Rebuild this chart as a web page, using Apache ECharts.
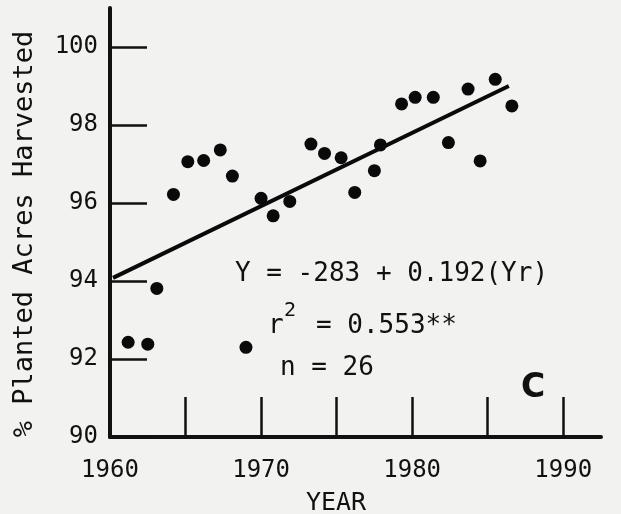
<!DOCTYPE html>
<html>
<head>
<meta charset="utf-8">
<script src="https://cdn.jsdelivr.net/npm/echarts@6/dist/echarts.min.js"></script>
<style>
  html, body { margin: 0; padding: 0; background: #f2f2f0; }
  #chart { width: 621px; height: 514px; }
</style>
</head>
<body>
<div id="chart"></div>
<script>
  // values (year as plotted, % harvested)
  const years = [1961.2, 1962.5, 1963.1, 1964.2, 1965.15, 1966.2, 1967.3, 1968.1, 1969.0, 1970.0,
    1970.8, 1971.9, 1973.3, 1974.2, 1975.3, 1976.2, 1977.5, 1977.9, 1979.3, 1980.2,
    1981.4, 1982.4, 1983.7, 1984.5, 1985.5, 1986.6];
  const harvested = [92.43, 92.38, 93.81, 96.22, 97.06, 97.09, 97.36, 96.69, 92.3, 96.12,
    95.67, 96.04, 97.51, 97.27, 97.16, 96.27, 96.83, 97.49, 98.54, 98.71,
    98.71, 97.55, 98.92, 97.08, 99.17, 98.49];
  // fitted line as drawn
  const fitYears = [1960.2, 1986.4];
  const fitValues = [94.08, 99.0];

  const yTicks = [90, 92, 94, 96, 98, 100];
  const xLabels = [1960, 1970, 1980, 1990];
  const xTicks = [1965, 1970, 1975, 1980, 1985, 1990];

  const font = 'DejaVu Sans Mono';

  const myChart = echarts.init(document.getElementById('chart'));

  const option = {
    backgroundColor: '#f2f2f0',
    animation: false,
    grid: { left: 110, top: 8, width: 491, height: 429 },
    xAxis: {
      type: 'value',
      min: 1960,
      max: 1992.5,
      splitLine: { show: false },
      axisLine: { lineStyle: { color: '#111', width: 4 } },
      axisTick: {
        inside: true,
        length: 40,
        customValues: xTicks,
        lineStyle: { color: '#111', width: 2.5 },
      },
      axisLabel: {
        customValues: xLabels,
        formatter: (v) => String(v),
        margin: 22,
        color: '#111',
        fontFamily: font,
        fontSize: 24,
      },
    },
    yAxis: {
      type: 'value',
      min: 90,
      max: 101,
      splitLine: { show: false },
      axisLine: { lineStyle: { color: '#111', width: 4 } },
      axisTick: {
        inside: true,
        length: 37,
        customValues: yTicks,
        lineStyle: { color: '#111', width: 2.5 },
      },
      axisLabel: {
        customValues: yTicks,
        margin: 12,
        color: '#111',
        fontFamily: font,
        fontSize: 24,
      },
    },
    series: [
      {
        type: 'scatter',
        data: years.map((y, i) => [y, harvested[i]]),
        symbolSize: 13,
        itemStyle: { color: '#0a0a0a', opacity: 1 },
      },
      {
        type: 'line',
        data: fitYears.map((y, i) => [y, fitValues[i]]),
        symbol: 'none',
        lineStyle: { color: '#0a0a0a', width: 4 },
      },
    ],
    graphic: [
      {
        type: 'text', x: 25, y: 234, rotation: Math.PI / 2,
        style: { text: '% Planted Acres Harvested', font: `27px "${font}"`, fill: '#111', textAlign: 'center', textVerticalAlign: 'middle' },
      },
      {
        type: 'text', x: 336, y: 503,
        style: { text: 'YEAR', font: `25px "${font}"`, fill: '#111', textAlign: 'center', textVerticalAlign: 'middle' },
      },
      {
        type: 'text', x: 235, y: 274,
        style: { text: 'Y = -283 + 0.192(Yr)', font: `26px "${font}"`, fill: '#111', textVerticalAlign: 'middle' },
      },
      {
        type: 'text', x: 268, y: 326,
        style: { text: 'r', font: `26px "${font}"`, fill: '#111', textVerticalAlign: 'middle' },
      },
      {
        type: 'text', x: 284, y: 311,
        style: { text: '2', font: `20px "${font}"`, fill: '#111', textVerticalAlign: 'middle' },
      },
      {
        type: 'text', x: 316, y: 326,
        style: { text: '= 0.553**', font: `26px "${font}"`, fill: '#111', textVerticalAlign: 'middle' },
      },
      {
        type: 'text', x: 280, y: 368,
        style: { text: 'n = 26', font: `26px "${font}"`, fill: '#111', textVerticalAlign: 'middle' },
      },
      {
        type: 'text', x: 533, y: 388,
        style: { text: 'C', font: 'bold 33px "DejaVu Sans"', fill: '#111', textAlign: 'center', textVerticalAlign: 'middle' },
      },
    ],
  };

  myChart.setOption(option);
</script>
</body>
</html>
